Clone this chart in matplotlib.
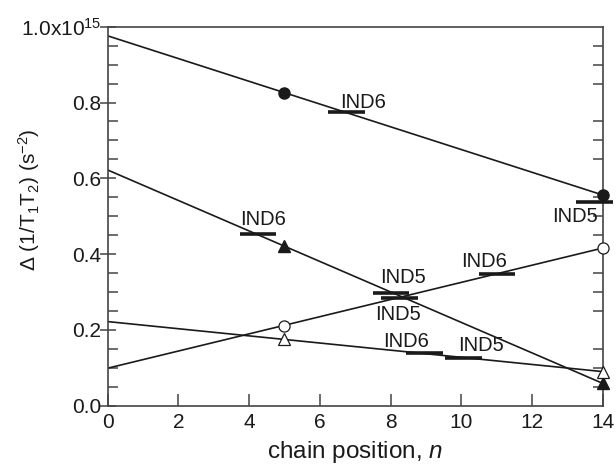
import numpy as np
import matplotlib
matplotlib.use('Agg')
from matplotlib import pyplot as plt
from matplotlib.ticker import MultipleLocator

plt.rcParams['font.family'] = ['Liberation Sans', 'DejaVu Sans']
plt.rcParams['mathtext.fontset'] = 'custom'
plt.rcParams['mathtext.rm'] = 'Liberation Sans'
plt.rcParams['mathtext.it'] = 'Liberation Sans:italic'

# measured points (x = chain position, y in units of 1e15 s^-2)
pos = [5, 14]
filled_circle = [0.826, 0.556]
filled_tri = [0.422, 0.059]
open_circle = [0.211, 0.416]
open_tri = [0.175, 0.090]

# straight-line fits, drawn between x=0 and x=14
fit_x = [0, 14]
fit_filled_circle = [0.976, 0.556]
fit_filled_tri = [0.622, 0.059]
fit_open_circle = [0.099, 0.416]
fit_open_tri = [0.222, 0.090]

# IND marks: centre x, y, label
ind_x = [6.75, 13.77, 4.25, 8.01, 8.26, 11.01, 8.97, 10.06]
ind_y = [0.774, 0.537, 0.452, 0.298, 0.285, 0.348, 0.140, 0.125]
ind_lab = ['IND6', 'IND5', 'IND6', 'IND5', 'IND5', 'IND6', 'IND6', 'IND5']
# label centre positions
lab_x = [7.22, 13.22, 4.4, 8.35, 8.2, 10.65, 8.45, 10.55]
lab_y = [0.800, 0.498, 0.492, 0.338, 0.242, 0.381, 0.169, 0.158]

ink = '#1a1a1a'
grey = '#444444'
fig = plt.figure(figsize=(6.16, 4.65), dpi=100)
ax = fig.add_axes([0.1748, 0.1275, 0.8036, 0.815])

for fy in [fit_filled_circle, fit_filled_tri, fit_open_circle, fit_open_tri]:
    ax.plot(fit_x, fy, color=ink, lw=1.2, zorder=2)

ax.plot(pos, filled_circle, 'o', color=ink, ms=8, zorder=3, clip_on=False)
ax.plot(pos, filled_tri, '^', color=ink, ms=8.5, zorder=3, clip_on=False)
ax.plot(pos, open_circle, 'o', mfc='white', mec=ink, mew=0.9, ms=8, zorder=3,
        clip_on=False)
ax.plot(pos, open_tri, '^', mfc='white', mec=ink, mew=0.9, ms=8.5, zorder=3,
        clip_on=False)

for xc, yc, t, tx, ty in zip(ind_x, ind_y, ind_lab, lab_x, lab_y):
    ax.plot([xc - 0.52, xc + 0.52], [yc, yc], color=ink, lw=2.6, zorder=4,
            solid_capstyle='butt', clip_on=False)
    ax.text(tx, ty, t, fontsize=14.5, color=ink, ha='center', va='center')

ax.set_xlim(0, 14)
ax.set_ylim(0, 1.0)
ax.set_xticks(np.arange(0, 15, 2))
ax.set_yticks(np.arange(0, 1.01, 0.2))
ax.set_yticklabels(['0.0', '0.2', '0.4', '0.6', '0.8', '1.0x10$^{15}$'])
ax.yaxis.set_minor_locator(MultipleLocator(0.05))

for s in ax.spines.values():
    s.set_color(grey)
    s.set_linewidth(1.2)

ax.tick_params(axis='x', direction='in', length=8.4, width=1.1, color=grey,
               labelsize=15, pad=5, top=False, labelcolor=ink)
ax.tick_params(axis='y', which='major', direction='inout', length=12, width=1.1,
               color=grey, labelsize=15, right=False, pad=-1.5, labelcolor=ink)
ax.tick_params(axis='y', which='minor', direction='in', length=7, width=1.1,
               color=grey, right=True)

ax.set_xlabel('chain position, $\\it{n}$', fontsize=17.5, color=ink)
ax.set_ylabel('$\\Delta$ (1/T$_1$T$_2$) (s$^{-2}$)', fontsize=15, color=ink)
ax.xaxis.set_label_coords(0.5, -0.087)
ax.yaxis.set_label_coords(-0.133, 0.543)

fig.savefig('out.png', dpi=100)
